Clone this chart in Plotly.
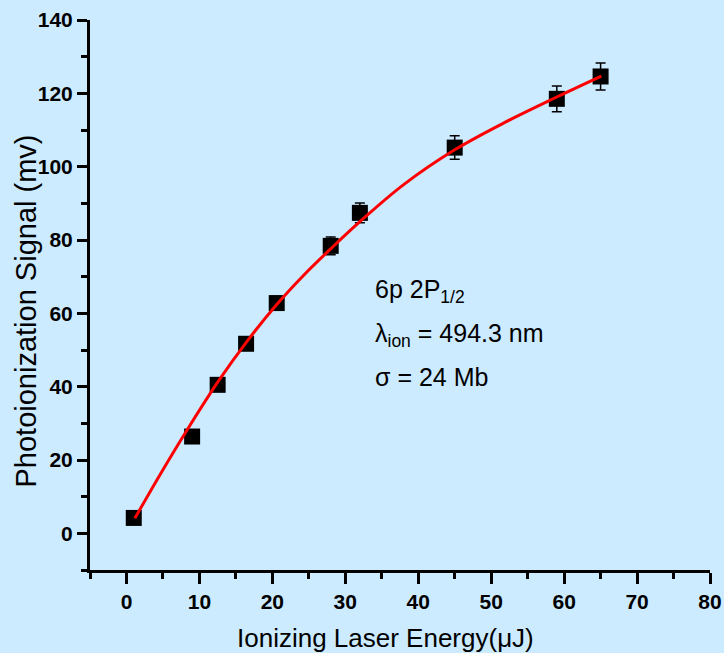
import plotly.graph_objects as go

energy_uJ = [1.0, 9.0, 12.5, 16.4, 20.6, 28.0, 32.0, 45.0, 59.0, 65.0]
signal_mv = [4.2, 26.4, 40.5, 51.7, 62.8, 78.4, 87.4, 105.2, 118.5, 124.6]
signal_err = [1.0, 1.2, 1.4, 1.5, 1.8, 2.4, 2.7, 3.2, 3.5, 3.7]

# Fit curve
fit_x = [1.15, 4.6, 8.5, 12.6, 16.5, 20.6, 24.3, 28.0, 32.0, 38.0, 45.0, 52.0, 59.0, 65.1]
fit_y = [4.1, 16.0, 28.8, 41.5, 52.3, 62.4, 70.4, 77.6, 85.0, 95.1, 104.6, 112.2, 119.0, 124.7]

x_ticks = [0, 10, 20, 30, 40, 50, 60, 70, 80]
y_ticks = [0, 20, 40, 60, 80, 100, 120, 140]

BG = "#CCEBFF"
FONT = "Liberation Sans, Arial, sans-serif"

fig = go.Figure()
fig.add_trace(go.Scatter(
    x=energy_uJ, y=signal_mv, mode="markers",
    marker=dict(symbol="square", size=16, color="black", line=dict(width=0)),
    error_y=dict(type="data", array=signal_err, visible=True,
                 color="black", thickness=1.5, width=5),
    showlegend=False,
))
fig.add_trace(go.Scatter(
    x=fit_x, y=fit_y, mode="lines",
    line=dict(color="#FF0000", width=3, shape="spline", smoothing=1.0),
    showlegend=False,
))

fig.update_layout(
    width=724, height=653,
    margin=dict(l=90, r=14, t=20, b=83),
    paper_bgcolor=BG, plot_bgcolor=BG,
    font=dict(family=FONT, color="black"),
    showlegend=False,
)

fig.update_xaxes(
    range=[-5, 80], tickvals=x_ticks, ticktext=[str(v) for v in x_ticks],
    showline=True, linewidth=3, linecolor="black",
    ticks="outside", ticklen=11, tickwidth=3, tickcolor="black",
    minor=dict(ticks="outside", ticklen=6, tickwidth=3, tickcolor="black", dtick=5, tick0=0, showgrid=False),
    showgrid=False, zeroline=False, automargin=False,
    tickfont=dict(family=FONT, size=21, color="black", weight="bold"),
)
fig.update_yaxes(
    range=[-10, 140], tickvals=y_ticks, ticktext=[str(v) for v in y_ticks],
    showline=True, linewidth=3, linecolor="black",
    ticks="outside", ticklen=10, tickwidth=3, tickcolor="black",
    minor=dict(ticks="outside", ticklen=6, tickwidth=3, tickcolor="black", dtick=10, tick0=0, showgrid=False),
    showgrid=False, zeroline=False, automargin=False,
    tickfont=dict(family=FONT, size=21, color="black", weight="bold"),
)

# Axis titles as annotations for precise placement
fig.add_annotation(x=0.4766, y=-0.123, xref="paper", yref="paper", xanchor="center", yanchor="middle",
                   text="Ionizing Laser Energy(μJ)", showarrow=False,
                   font=dict(family=FONT, size=26, color="black"))
fig.add_annotation(x=-0.1048, y=0.47, xref="paper", yref="paper", xanchor="center", yanchor="middle",
                   text="Photoionization Signal (mv)", showarrow=False, textangle=-90,
                   font=dict(family=FONT, size=29, color="black"))

ann_font = dict(family=FONT, size=25, color="black")
fig.add_annotation(x=33.8, y=66.2, xref="x", yref="y", xanchor="left", yanchor="middle",
                   text="6p 2P<sub>1/2</sub>", showarrow=False, font=ann_font)
fig.add_annotation(x=33.8, y=54.1, xref="x", yref="y", xanchor="left", yanchor="middle",
                   text="λ<sub>ion</sub> = 494.3 nm", showarrow=False, font=ann_font)
fig.add_annotation(x=33.8, y=42.7, xref="x", yref="y", xanchor="left", yanchor="middle",
                   text="σ = 24 Mb", showarrow=False, font=ann_font)

fig.write_html("out.html")
